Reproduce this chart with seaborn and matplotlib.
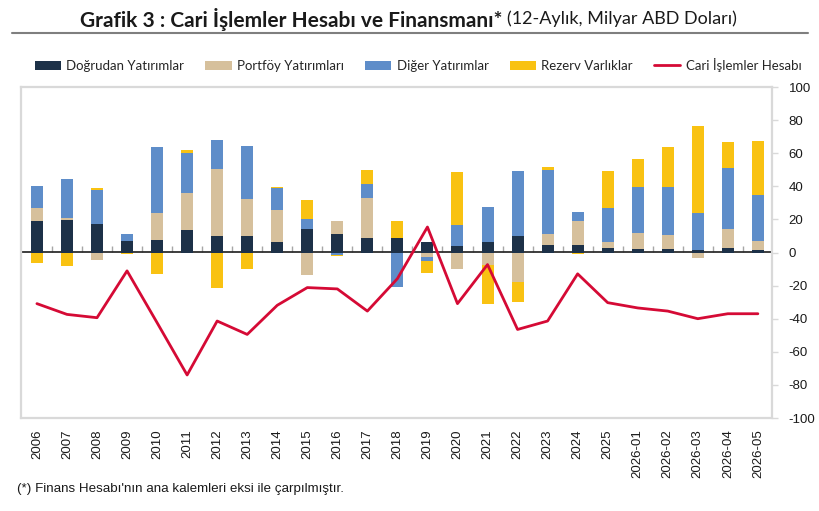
import numpy as np
import pandas as pd
import matplotlib
matplotlib.use("Agg")
import matplotlib.pyplot as plt
import seaborn as sns
from matplotlib.lines import Line2D
from matplotlib.patches import Patch

categories = ["2006", "2007", "2008", "2009", "2010", "2011", "2012", "2013", "2014",
              "2015", "2016", "2017", "2018", "2019", "2020", "2021", "2022", "2023",
              "2024", "2025", "2026-01", "2026-02", "2026-03", "2026-04", "2026-05"]

dogrudan = [19.2, 19.8, 17.0, 6.9, 7.5, 13.5, 9.9, 9.9, 6.3, 14.1, 10.9, 8.7, 8.7,
            6.3, 4.2, 6.3, 9.9, 4.6, 4.6, 2.8, 2.4, 2.4, 1.8, 3.0, 1.8]
portfoy = [7.5, 1.0, -4.8, 0.0, 16.1, 22.4, 40.8, 22.2, 19.6, -13.7, 7.9, 24.0, 0.0,
           -2.6, -9.9, -7.7, -17.8, 6.3, 14.2, 3.5, 9.5, 7.9, -3.2, 11.1, 5.1]
diger = [13.3, 23.6, 21.0, 4.0, 40.4, 24.4, 17.4, 32.5, 13.3, 5.9, -1.3, 8.5, -20.6,
         -2.8, 12.2, 21.4, 39.2, 38.8, 5.4, 20.8, 27.7, 29.3, 21.8, 36.8, 28.0]
rezerv = [-6.1, -8.3, 1.0, -0.8, -12.7, 1.6, -21.2, -9.7, 0.4, 11.5, -1.0, 8.5, 10.5,
          -6.7, 32.1, -23.4, -12.1, 2.0, -0.8, 22.0, 16.8, 24.0, 53.0, 15.6, 32.6]
cari = [-30.9, -37.4, -39.4, -11.1, -42.4, -74.0, -41.4, -49.5, -31.9, -21.2, -22.0,
        -35.4, -15.8, 15.4, -30.9, -7.3, -46.5, -41.4, -12.9, -30.3, -33.5, -35.4,
        -40.0, -37.0, -37.0]

series_names = ["Doğrudan Yatırımlar", "Portföy Yatırımları", "Diğer Yatırımlar", "Rezerv Varlıklar"]
line_name = "Cari İşlemler Hesabı"
y_ticks = [-100, -80, -60, -40, -20, 0, 20, 40, 60, 80, 100]

colors = {"Doğrudan Yatırımlar": "#1d3148",
          "Portföy Yatırımları": "#d6c09c",
          "Diğer Yatırımlar": "#5e8dc9",
          "Rezerv Varlıklar": "#f9c212"}
line_color = "#d50a35"

sns.set_theme(style="white")
plt.rcParams["font.family"] = ["Liberation Sans", "DejaVu Sans"]

fig = plt.figure(figsize=(8.2, 5.11), dpi=100)
ax = fig.add_axes([21 / 820, 1 - 418 / 511, (772 - 21) / 820, (418 - 87) / 511])

x = np.arange(len(categories))
df = pd.DataFrame({"cat": categories, series_names[0]: dogrudan, series_names[1]: portfoy,
                   series_names[2]: diger, series_names[3]: rezerv})

pos_base = np.zeros(len(categories))
neg_base = np.zeros(len(categories))
width = 0.4
for name in series_names:
    vals = df[name].to_numpy()
    base = np.where(vals >= 0, pos_base, neg_base)
    ax.bar(x, vals, width=width, bottom=base, color=colors[name], label=name,
           edgecolor="none", zorder=2)
    pos_base = pos_base + np.where(vals >= 0, vals, 0)
    neg_base = neg_base + np.where(vals < 0, vals, 0)

line_df = pd.DataFrame({"x": x, "y": cari})
sns.lineplot(data=line_df, x="x", y="y", ax=ax, color=line_color, linewidth=2.0,
             zorder=3, legend=False)

ax.set_xlim(-0.53, len(categories) - 0.53)
ax.set_ylim(-100, 100)
ax.set_xlabel("")
ax.set_ylabel("")

for s in ax.spines.values():
    s.set_visible(True)
    s.set_color("#d9d9d9")
    s.set_linewidth(1.6)

ax.set_xticks(x)
ax.set_xticklabels(categories, rotation=90, fontsize=9.5, color="#1a1a1a")
ax.tick_params(axis="x", length=0, pad=8)

ax.yaxis.tick_right()
ax.set_yticks(y_ticks)
ax.set_yticklabels([str(v) for v in y_ticks], fontsize=9.5, color="#1a1a1a")
ax.tick_params(axis="y", direction="out", length=4, width=1, color="#d9d9d9", pad=8,
               right=True, left=False)

# zero axis line with boundary ticks
sec = ax.secondary_xaxis(0.5)
sec.spines["bottom"].set_color("#a6a6a6")
sec.spines["bottom"].set_linewidth(1.0)
sec.set_xticks(np.arange(len(categories) - 1) + 0.5)
sec.set_xticklabels([""] * (len(categories) - 1))
sec.tick_params(axis="x", direction="out", length=4, width=1, color="#a6a6a6")

leg_handles = [Patch(facecolor=colors[n], edgecolor="none") for n in series_names]
leg_handles.append(Line2D([0], [0], color=line_color, linewidth=2))
fig.legend(leg_handles, series_names + [line_name], loc="center",
           bbox_to_anchor=(418 / 820, 1 - 65 / 511), ncol=5, frameon=False,
           prop={"family": ["Lato", "DejaVu Sans"], "size": 9.5},
           handlelength=2.0, handleheight=0.7, columnspacing=1.6, handletextpad=0.4)

t1 = fig.text(80 / 820, 1 - 19 / 511, "Grafik 3 : Cari İşlemler Hesabı ve Finansmanı*",
              fontsize=15, fontweight="bold", family=["Lato", "DejaVu Sans"],
              ha="left", va="center", color="#1a1a1a")
fig.canvas.draw()
bb = t1.get_window_extent()
fig.text(bb.x1 / 820 + 5 / 820, 1 - 19 / 511, "(12-Aylık, Milyar ABD Doları)",
         fontsize=13, family=["Lato", "DejaVu Sans"], ha="left", va="center",
         color="#1a1a1a")
fig.add_artist(Line2D([12 / 820, 808 / 820], [1 - 33 / 511, 1 - 33 / 511],
                      color="#7f7f7f", linewidth=1.5, transform=fig.transFigure))

fig.text(17 / 820, 1 - 489 / 511, "(*) Finans Hesabı'nın ana kalemleri eksi ile çarpılmıştır.",
         fontsize=9.6, ha="left", va="center", color="#1a1a1a")

fig.savefig("out.png", dpi=100)
